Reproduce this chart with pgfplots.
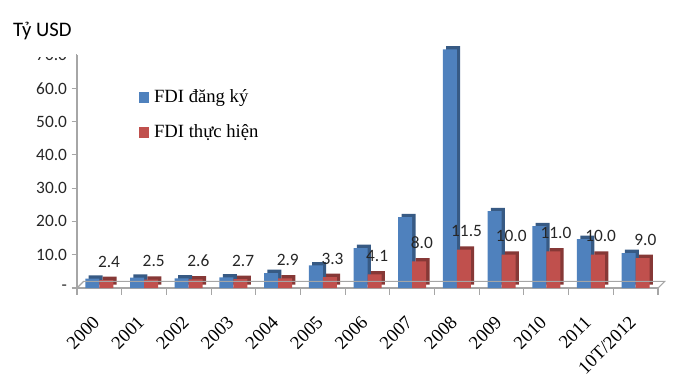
\documentclass[border=0pt]{standalone}
\usepackage{pgfplots}
\pgfplotsset{compat=1.18}
\usepackage{fontspec}
\setmainfont{Carlito}
\newfontfamily\tnr{Liberation Serif}
\definecolor{fdiblue}{HTML}{4F81BD}
\definecolor{fdired}{HTML}{C0504D}
\definecolor{axgray}{HTML}{A6A6A6}
\begin{document}
\begin{tikzpicture}[x=1pt,y=1pt]
\useasboundingbox (-57.75,-75.75) rectangle (452.25,216);
\begin{axis}[
  at={(0,0)}, anchor=south west,
  scale only axis, width=435.75pt, height=174.75pt,
  xmin=-0.5, xmax=12.5, ymin=0, ymax=70,
  clip=false,
  ybar=0pt, bar width=10.5pt,
  axis x line*=bottom, axis y line*=left,
  axis line style={draw=axgray, line width=0.8pt},
  tick align=outside,
  xtick={0,...,12},
  xticklabels={2000,2001,2002,2003,2004,2005,2006,2007,2008,2009,2010,2011,10T/2012},
  major x tick style={draw=none},
  minor xtick={-0.5,0.5,...,12.5},
  minor x tick style={draw=axgray, line width=0.8pt},
  minor tick length=5pt,
  x tick label style={font=\tnr\fontsize{14}{16}\selectfont, rotate=45, anchor=north east, inner sep=1pt, yshift=-6.25pt, xshift=-14.25pt},
  ytick={0,10,...,70},
  yticklabels={-,10.0,20.0,30.0,40.0,50.0,60.0,70.0},
  y tick style={draw=axgray, line width=0.8pt},
  major tick length=4pt,
  y tick label style={font=\fontsize{13}{15}\selectfont, color=black!85},
  legend style={at={(0.1,0.875)}, anchor=north west, draw=none, fill=none,
    font=\tnr\fontsize{14}{16}\selectfont, row sep=11pt, column sep=2pt},
  legend cell align=left,
  legend image code/.code={\fill[#1] (0pt,-4pt) rectangle (7pt,4pt);},
  execute at end axis={
    \coordinate (bl) at (rel axis cs:0,0);
    \coordinate (br) at (rel axis cs:1,0);
  },
]
\addplot[fill=fdiblue, draw=none, forget plot, bar shift=-5.25pt,
  preaction={fill=fdiblue!70!black, transform canvas={xshift=2.5pt,yshift=2.5pt}}] coordinates {
(0,2.8) (1,3.1) (2,2.9) (3,3.2) (4,4.5) (5,6.8) (6,12.0) (7,21.3) (8,71.7) (9,23.1) (10,18.6) (11,14.7) (12,10.5)};
\addplot[fill=fdired, draw=none, forget plot, bar shift=5.25pt,
  preaction={fill=fdired!70!black, transform canvas={xshift=2.5pt,yshift=2.5pt}},
  nodes near coords={\pgfmathprintnumber[fixed,fixed zerofill,precision=1,assume math mode=true]{\pgfplotspointmeta}},
  every node near coord/.append style={font=\fontsize{13}{15}\selectfont, color=black!85, yshift=6pt, xshift=2pt}]
 coordinates {
(0,2.4) (1,2.5) (2,2.6) (3,2.7) (4,2.9) (5,3.3) (6,4.1) (7,8.0) (8,11.5) (9,10.0) (10,11.0) (11,10.0) (12,9.0)};
\addlegendimage{fill=fdiblue, draw=none}
\addlegendentry{FDI đăng ký}
\addlegendimage{fill=fdired, draw=none}
\addlegendentry{FDI thực hiện}
\end{axis}
\draw[axgray, line width=0.8pt] (bl) -- ++(5pt,5pt) -- ([shift={(5pt,5pt)}]br) -- (br);
\fill[white] (-57.75,173.25) rectangle (-1,216);
\node[font=\fontsize{15.5}{17}\selectfont, anchor=west] at (-51.5,192.75) {Tỷ USD};
\end{tikzpicture}
\end{document}
